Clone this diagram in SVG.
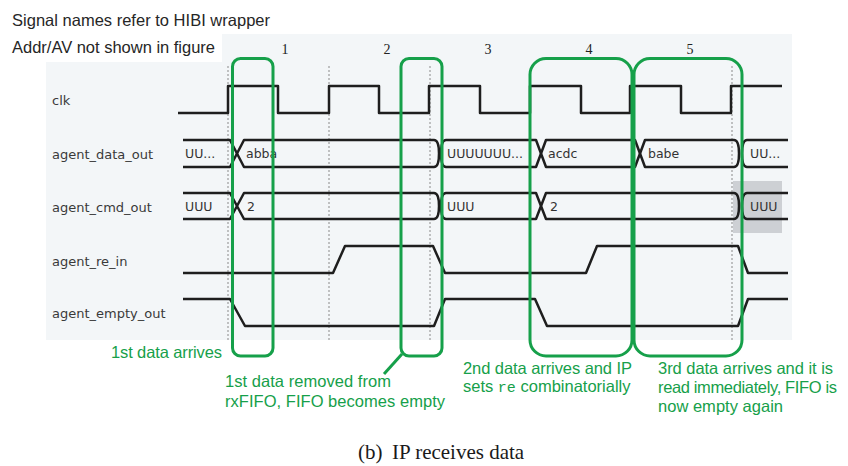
<svg xmlns="http://www.w3.org/2000/svg" width="848" height="466" viewBox="0 0 848 466">
<style>
  .note{font-family:"Liberation Sans",Arial,sans-serif;font-size:16.5px;fill:#262626}
  .green{font-family:"Liberation Sans",Arial,sans-serif;font-size:16.5px;fill:#16a04a}
  .mono{font-family:"Liberation Mono","Courier New",monospace;font-size:15px;fill:#16a04a}
  .lbl{font-family:"DejaVu Sans",Verdana,sans-serif;font-size:13px;fill:#3a3a3a}
  .val{font-family:"DejaVu Sans",Verdana,sans-serif;font-size:12.5px;fill:#333}
  .num{font-family:"Liberation Serif","Times New Roman",serif;font-size:14px;fill:#222;text-anchor:middle}
  .cap{font-family:"Liberation Serif","Times New Roman",serif;font-size:21px;fill:#1a1a1a}
  .sig{fill:none;stroke:#1e1e1e;stroke-width:2.5;stroke-linejoin:round}
  .dot{stroke:#8a8a8a;stroke-width:1;stroke-dasharray:2 2;fill:none}
  .box{fill:none;stroke:#16a04a;stroke-width:3}
</style>

<!-- waveform panel -->
<rect x="46" y="34" width="746" height="306" fill="#f3f6f8"/>
<rect x="0" y="0" width="222" height="62" fill="#ffffff"/>

<g id="notes">
  <text class="note" x="12" y="26" textLength="258" lengthAdjust="spacing">Signal names refer to HIBI wrapper</text>
  <text class="note" x="12" y="53" textLength="203" lengthAdjust="spacing">Addr/AV not shown in figure</text>
</g>

<g id="cycles">
  <text class="num" x="285" y="54">1</text>
  <text class="num" x="387" y="54">2</text>
  <text class="num" x="488" y="54">3</text>
  <text class="num" x="589" y="54">4</text>
  <text class="num" x="690" y="54">5</text>
</g>

<g id="gridlines">
  <line class="dot" x1="228" y1="66" x2="228" y2="340"/>
  <line class="dot" x1="329" y1="66" x2="329" y2="340"/>
  <line class="dot" x1="430" y1="66" x2="430" y2="340"/>
  <line class="dot" x1="732" y1="66" x2="732" y2="340"/>
</g>

<g id="labels">
  <text class="lbl" x="52" y="105">clk</text>
  <text class="lbl" x="52" y="159">agent_data_out</text>
  <text class="lbl" x="52" y="212">agent_cmd_out</text>
  <text class="lbl" x="52" y="266">agent_re_in</text>
  <text class="lbl" x="52" y="318">agent_empty_out</text>
</g>

<g id="clk">
  <path class="sig" d="M178,113 H228 V86 H278 V113 H329 V86 H379 V113 H429 V86 H480 V113 H530 V86 H581 V113 H630 V86 H681 V113 H731 V86 H782"/>
</g>

<g id="agent_data_out">
  <path class="sig" d="M183,140 H230 L237,153.5 L230,167 H183"/>
  <path class="sig" d="M237,153.5 L244,140 H434 Q439,140 439,153.5 Q439,167 434,167 H244 Z"/>
  <path class="sig" d="M441,153.5 Q441,140 446,140 H536 L541,153.5 L536,167 H446 Q441,167 441,153.5 Z"/>
  <path class="sig" d="M541,153.5 L546,140 H635 L640,153.5 L635,167 H546 Z"/>
  <path class="sig" d="M640,153.5 L645,140 H734 Q739,140 739,153.5 Q739,167 734,167 H645 Z"/>
  <path class="sig" d="M788,140 H747 Q742,140 742,153.5 Q742,167 747,167 H788"/>
  <text class="val" x="185" y="158">UU...</text>
  <text class="val" x="246" y="158">abba</text>
  <text class="val" x="447" y="158">UUUUUUU...</text>
  <text class="val" x="548" y="158">acdc</text>
  <text class="val" x="648" y="158">babe</text>
  <text class="val" x="750" y="158">UU...</text>
</g>

<g id="agent_cmd_out">
  <rect x="733" y="181" width="49" height="52" fill="#cdd0d4"/>
  <path class="sig" d="M183,193 H230 L237,206 L230,219 H183"/>
  <path class="sig" d="M237,206 L244,193 H434 Q439,193 439,206 Q439,219 434,219 H244 Z"/>
  <path class="sig" d="M441,206 Q441,193 446,193 H536 L541,206 L536,219 H446 Q441,219 441,206 Z"/>
  <path class="sig" d="M541,206 L546,193 H734 Q739,193 739,206 Q739,219 734,219 H546 Z"/>
  <path class="sig" d="M788,193 H747 Q742,193 742,206 Q742,219 747,219 H788"/>
  <text class="val" x="185" y="211">UUU</text>
  <text class="val" x="247" y="211">2</text>
  <text class="val" x="447" y="211">UUU</text>
  <text class="val" x="550" y="211">2</text>
  <text class="val" x="750" y="211">UUU</text>
</g>

<g id="agent_re_in">
  <path class="sig" d="M183,273 H333 L345,246 H433 L445,273 H586 L597,246 H738 L748,273 H788"/>
</g>

<g id="agent_empty_out">
  <path class="sig" d="M183,299 H230 L245,326 H434 L445,299 H535 L547,326 H738 L748,299 H788"/>
</g>

<g id="highlights">
  <rect class="box" x="232.5" y="58.5" width="40.5" height="297.5" rx="8"/>
  <rect class="box" x="401" y="58.5" width="41" height="297.5" rx="8"/>
  <line class="box" x1="402" y1="354" x2="384" y2="374"/>
  <rect class="box" x="530" y="58.5" width="102" height="297.5" rx="16"/>
  <rect class="box" x="634" y="58.5" width="108" height="297.5" rx="16"/>
</g>

<g id="annotations">
  <text class="green" x="111" y="358" textLength="111" lengthAdjust="spacing">1st data arrives</text>
  <text class="green" x="225" y="387" textLength="166" lengthAdjust="spacing">1st data removed from</text>
  <text class="green" x="225" y="407" textLength="220" lengthAdjust="spacing">rxFIFO, FIFO becomes empty</text>
  <text class="green" x="463" y="374" textLength="169" lengthAdjust="spacing">2nd data arrives and IP</text>
  <text class="green" x="463" y="392">sets <tspan class="mono">re</tspan> combinatorially</text>
  <text class="green" x="658" y="374" textLength="175" lengthAdjust="spacing">3rd data arrives and it is</text>
  <text class="green" x="658" y="393" textLength="179" lengthAdjust="spacing">read immediately, FIFO is</text>
  <text class="green" x="658" y="412" textLength="125" lengthAdjust="spacing">now empty again</text>
</g>

<g id="caption">
  <text class="cap" x="358" y="459">(b)</text>
  <text class="cap" x="392" y="459">IP receives data</text>
</g>
</svg>
